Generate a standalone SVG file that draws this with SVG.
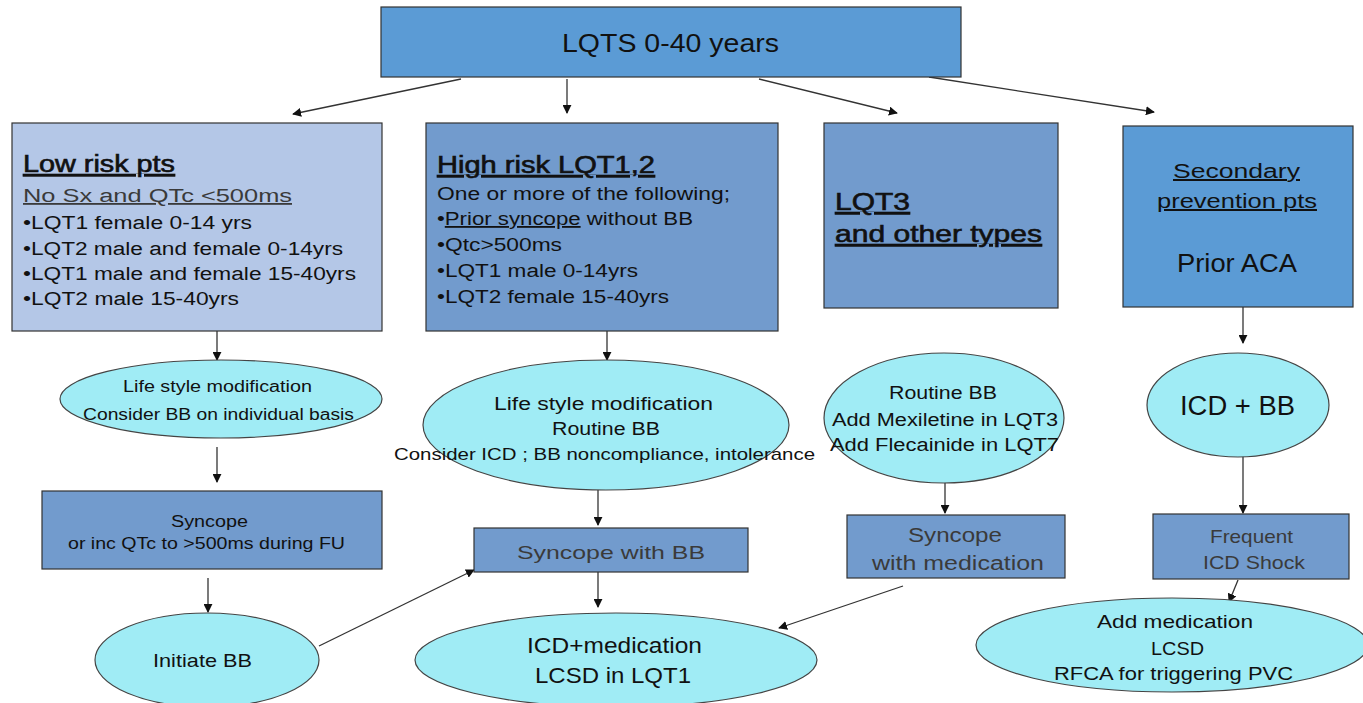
<svg xmlns="http://www.w3.org/2000/svg" width="1363" height="703" viewBox="0 0 1363 703">
<defs>
<style>
text{font-family:"Liberation Sans","Noto Sans",sans-serif;fill:#111}
.box{stroke:#333;stroke-width:1.2}
.b1{fill:#5B9BD5}.b2{fill:#B4C7E7}.b3{fill:#729BCD}
.ell{fill:#A0ECF5;stroke:#444;stroke-width:1.2}
.g{fill:#3a3a3a}
.u{text-decoration:underline}
.h{stroke:#111;stroke-width:0.6}
.c line{stroke:#333;stroke-width:1.3}
</style>
<marker id="ah" viewBox="0 0 10 10" refX="9" refY="5" markerWidth="9" markerHeight="9" markerUnits="userSpaceOnUse" orient="auto"><path d="M0,0L10,5L0,10z" fill="#111"/></marker>
</defs>
<rect width="1363" height="703" fill="#fff"/>

<g id="connectors" class="c">
<line x1="461" y1="79" x2="293" y2="114" marker-end="url(#ah)"/>
<line x1="567" y1="79" x2="567" y2="113" marker-end="url(#ah)"/>
<line x1="759" y1="79" x2="897" y2="113" marker-end="url(#ah)"/>
<line x1="929" y1="77" x2="1154" y2="112" marker-end="url(#ah)"/>
<line x1="217" y1="331" x2="217" y2="360" marker-end="url(#ah)"/>
<line x1="607" y1="331" x2="607" y2="360" marker-end="url(#ah)"/>
<line x1="1243" y1="307" x2="1243" y2="343" marker-end="url(#ah)"/>
<line x1="217" y1="447" x2="217" y2="482" marker-end="url(#ah)"/>
<line x1="208" y1="578" x2="208" y2="612" marker-end="url(#ah)"/>
<line x1="319" y1="646" x2="474" y2="570" marker-end="url(#ah)"/>
<line x1="598" y1="490" x2="598" y2="525" marker-end="url(#ah)"/>
<line x1="598" y1="572" x2="598" y2="607" marker-end="url(#ah)"/>
<line x1="945" y1="482" x2="945" y2="513" marker-end="url(#ah)"/>
<line x1="903" y1="586" x2="779" y2="628" marker-end="url(#ah)"/>
<line x1="1243" y1="456" x2="1243" y2="513" marker-end="url(#ah)"/>
<line x1="1238" y1="580" x2="1229" y2="602" marker-end="url(#ah)"/>
</g>

<g id="top">
<rect class="box b1" x="381" y="7" width="580" height="70"/>
<text x="562" y="52" font-size="25" textLength="217" lengthAdjust="spacingAndGlyphs">LQTS 0-40 years</text>
</g>

<g id="lowrisk">
<rect class="box b2" x="12" y="123" width="370" height="208"/>
<text class="u h" x="23" y="172" font-size="23" textLength="152" lengthAdjust="spacingAndGlyphs">Low risk pts</text>
<text class="u g" x="23" y="202" font-size="18" textLength="269" lengthAdjust="spacingAndGlyphs">No  Sx and  QTc  &lt;500ms</text>
<text x="23" y="229" font-size="18" textLength="229" lengthAdjust="spacingAndGlyphs">•LQT1 female 0-14 yrs</text>
<text x="23" y="255" font-size="18" textLength="320" lengthAdjust="spacingAndGlyphs">•LQT2 male and female 0-14yrs</text>
<text x="23" y="280" font-size="18" textLength="333" lengthAdjust="spacingAndGlyphs">•LQT1 male and female 15-40yrs</text>
<text x="23" y="305" font-size="18" textLength="216" lengthAdjust="spacingAndGlyphs">•LQT2 male 15-40yrs</text>
</g>

<g id="highrisk">
<rect class="box b3" x="426" y="123" width="352" height="208"/>
<text class="u h" x="437" y="173" font-size="23" textLength="218" lengthAdjust="spacingAndGlyphs">High  risk LQT1,2</text>
<text x="437" y="200" font-size="18" textLength="293" lengthAdjust="spacingAndGlyphs">One or more of the following;</text>
<text x="437" y="225" font-size="18" textLength="256" lengthAdjust="spacingAndGlyphs">•<tspan class="u">Prior syncope</tspan> without BB</text>
<text x="437" y="251" font-size="18" textLength="125" lengthAdjust="spacingAndGlyphs">•Qtc&gt;500ms</text>
<text x="437" y="277" font-size="18" textLength="201" lengthAdjust="spacingAndGlyphs">•LQT1 male 0-14yrs</text>
<text x="437" y="303" font-size="18" textLength="232" lengthAdjust="spacingAndGlyphs">•LQT2 female 15-40yrs</text>
</g>

<g id="lqt3">
<rect class="box b3" x="824" y="123" width="234" height="185"/>
<text class="u h" x="835" y="210" font-size="24" textLength="75" lengthAdjust="spacingAndGlyphs">LQT3 </text>
<text class="u h" x="835" y="242" font-size="24" textLength="207" lengthAdjust="spacingAndGlyphs">and  other types </text>
</g>

<g id="secondary">
<rect class="box b1" x="1123" y="126" width="230" height="181"/>
<text class="u" x="1173" y="178" font-size="20" textLength="127" lengthAdjust="spacingAndGlyphs">Secondary  </text>
<text class="u" x="1157" y="208" font-size="20" textLength="160" lengthAdjust="spacingAndGlyphs">prevention  pts</text>
<text x="1177" y="272" font-size="25" textLength="120" lengthAdjust="spacingAndGlyphs">Prior  ACA</text>
</g>

<g id="low-ellipse">
<ellipse class="ell" cx="221" cy="399" rx="161" ry="39"/>
<text x="123" y="392" font-size="16" textLength="189" lengthAdjust="spacingAndGlyphs">Life style modification</text>
<text x="83" y="420" font-size="16" textLength="271" lengthAdjust="spacingAndGlyphs">Consider BB on individual basis</text>
</g>

<g id="low-syncope">
<rect class="box b3" x="42" y="491" width="340" height="78"/>
<text x="171" y="527" font-size="16" textLength="77" lengthAdjust="spacingAndGlyphs">Syncope</text>
<text x="68" y="549" font-size="16" textLength="277" lengthAdjust="spacingAndGlyphs">or inc QTc to &gt;500ms during FU</text>
</g>

<g id="initiate-bb">
<ellipse class="ell" cx="207" cy="660" rx="112" ry="47"/>
<text x="153" y="667" font-size="19" textLength="99" lengthAdjust="spacingAndGlyphs">Initiate BB</text>
</g>

<g id="high-ellipse">
<ellipse class="ell" cx="606" cy="425" rx="183" ry="65"/>
<text x="494" y="410" font-size="18" textLength="219" lengthAdjust="spacingAndGlyphs">Life  style modification</text>
<text x="552" y="435" font-size="18" textLength="108" lengthAdjust="spacingAndGlyphs">Routine BB</text>
<text x="394" y="460" font-size="17" textLength="421" lengthAdjust="spacingAndGlyphs">Consider ICD  ; BB noncompliance, intolerance</text>
</g>

<g id="syncope-bb">
<rect class="box b3" x="474" y="528" width="274" height="44"/>
<text class="g" x="517" y="559" font-size="19" textLength="188" lengthAdjust="spacingAndGlyphs">Syncope  with  BB</text>
</g>

<g id="icd-med">
<ellipse class="ell" cx="616" cy="660" rx="201" ry="47"/>
<text x="527" y="653" font-size="22" textLength="175" lengthAdjust="spacingAndGlyphs">ICD+medication</text>
<text x="535" y="683" font-size="22" textLength="156" lengthAdjust="spacingAndGlyphs">LCSD  in  LQT1</text>
</g>

<g id="lqt3-ellipse">
<ellipse class="ell" cx="944" cy="418" rx="120" ry="65"/>
<text x="889" y="399" font-size="18" textLength="108" lengthAdjust="spacingAndGlyphs">Routine BB</text>
<text x="832" y="426" font-size="18" textLength="226" lengthAdjust="spacingAndGlyphs">Add Mexiletine in LQT3</text>
<text x="830" y="451" font-size="18" textLength="229" lengthAdjust="spacingAndGlyphs">Add Flecainide in LQT7</text>
</g>

<g id="syncope-med">
<rect class="box b3" x="847" y="515" width="218" height="63"/>
<text class="g" x="908" y="542" font-size="20" textLength="94" lengthAdjust="spacingAndGlyphs">Syncope</text>
<text class="g" x="872" y="570" font-size="20" textLength="172" lengthAdjust="spacingAndGlyphs">with  medication</text>
</g>

<g id="icd-bb">
<ellipse class="ell" cx="1238" cy="405" rx="91" ry="52"/>
<text x="1180" y="415" font-size="27" textLength="115" lengthAdjust="spacingAndGlyphs">ICD  + BB</text>
</g>

<g id="icd-shock">
<rect class="box b3" x="1153" y="514" width="196" height="65"/>
<text class="g" x="1210" y="543" font-size="19" textLength="83" lengthAdjust="spacingAndGlyphs">Frequent</text>
<text class="g" x="1203" y="569" font-size="19" textLength="102" lengthAdjust="spacingAndGlyphs">ICD  Shock</text>
</g>

<g id="add-med">
<ellipse class="ell" cx="1172" cy="645" rx="196" ry="47"/>
<text x="1097" y="628" font-size="19" textLength="156" lengthAdjust="spacingAndGlyphs">Add medication</text>
<text x="1151" y="655" font-size="19" textLength="53" lengthAdjust="spacingAndGlyphs">LCSD</text>
<text x="1054" y="680" font-size="19" textLength="239" lengthAdjust="spacingAndGlyphs">RFCA for triggering PVC</text>
</g>
</svg>
